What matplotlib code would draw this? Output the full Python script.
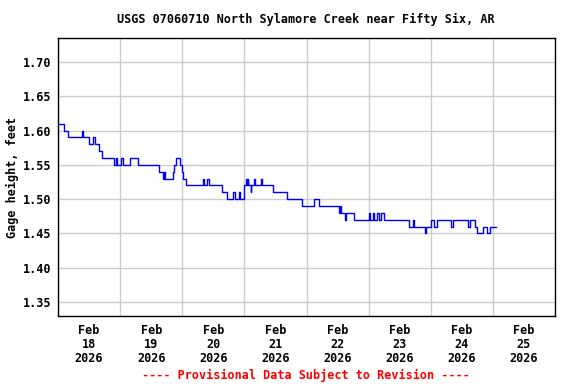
import pandas as pd
import matplotlib
matplotlib.use("Agg")
import matplotlib.pyplot as plt
import matplotlib.dates as mdates

# gage height change points: hours after 2026-02-18 00:00, value in feet
hours = [0, 2.5, 4.0, 9.25, 9.5, 12.0, 13.5, 14.25, 16.0, 17.0,
         21.5, 22.25, 22.75, 24.5, 25.0, 27.75, 30.75, 39.0, 40.5, 41.0,
         41.25, 44.5, 45.0, 45.5, 47.25, 47.75, 48.25, 49.5, 56.0, 56.5,
         57.75, 58.25, 63.25, 65.25, 67.75, 68.5, 69.75, 70.25, 71.75, 72.0,
         72.5, 73.0, 73.25, 73.5, 74.5, 74.75, 75.75, 76.0, 78.25, 78.75,
         83.0, 88.5, 94.25, 99.0, 100.75, 108.5, 108.75, 109.5, 110.75, 111.25,
         114.25, 120.0, 120.5, 121.75, 122.25, 123.25, 124.0, 124.75, 125.75, 135.75,
         137.0, 137.5, 141.75, 142.25, 144.0, 145.25, 146.25, 152.0, 152.5, 158.5,
         159.0, 161.0, 162.0, 164.25, 165.75, 166.75, 169.25]
gage_ft = [1.61, 1.60, 1.59, 1.60, 1.59, 1.58, 1.59, 1.58, 1.57, 1.56,
           1.55, 1.56, 1.55, 1.56, 1.55, 1.56, 1.55, 1.54, 1.53, 1.54,
           1.53, 1.54, 1.55, 1.56, 1.55, 1.54, 1.53, 1.52, 1.53, 1.52,
           1.53, 1.52, 1.51, 1.50, 1.51, 1.50, 1.51, 1.50, 1.51, 1.52,
           1.53, 1.52, 1.53, 1.52, 1.51, 1.52, 1.53, 1.52, 1.53, 1.52,
           1.51, 1.50, 1.49, 1.50, 1.49, 1.48, 1.49, 1.48, 1.47, 1.48,
           1.47, 1.48, 1.47, 1.48, 1.47, 1.48, 1.47, 1.48, 1.47, 1.46,
           1.47, 1.46, 1.45, 1.46, 1.47, 1.46, 1.47, 1.46, 1.47, 1.46,
           1.47, 1.46, 1.45, 1.46, 1.45, 1.46, 1.46]

y_ticks = [1.35, 1.40, 1.45, 1.50, 1.55, 1.60, 1.65, 1.70]

start = pd.Timestamp("2026-02-18")
times = start + pd.to_timedelta(hours, unit="h")

font = "DejaVu Sans Mono"
fs = 8.5

fig = plt.figure(figsize=(5.76, 3.84), dpi=100)
ax = fig.add_axes([58 / 576, 1 - 316 / 384, (555 - 58) / 576, (316 - 38) / 384])

ax.plot(times, gage_ft, color="#0000ff", lw=1.0, drawstyle="steps-post")

ax.set_xlim(start, start + pd.Timedelta(days=8))
ax.set_ylim(1.3295, 1.735)

# midnight gridlines, labels centred at noon
ax.xaxis.set_major_locator(mdates.DayLocator())
ax.xaxis.set_major_formatter(plt.NullFormatter())
ax.xaxis.set_minor_locator(mdates.HourLocator(byhour=[12]))
ax.xaxis.set_minor_formatter(mdates.DateFormatter("%b\n%d\n%Y"))
ax.tick_params(axis="x", which="both", length=0, pad=6)
ax.tick_params(axis="y", length=0, pad=5)

ax.set_yticks(y_ticks)
ax.set_yticklabels([f"{v:.2f}" for v in y_ticks])
for lab in ax.get_yticklabels() + ax.xaxis.get_minorticklabels():
    lab.set_fontfamily(font)
    lab.set_fontweight("bold")
    lab.set_fontsize(fs)
for lab in ax.xaxis.get_minorticklabels():
    lab.set_linespacing(1.1)

ax.grid(True, which="major", color="#cccccc", lw=1.0)
ax.set_axisbelow(True)
for s in ax.spines.values():
    s.set_linewidth(1.0)
    s.set_color("black")

fig.text(12 / 576, 1 - 177 / 384, "Gage height, feet", rotation=90,
         ha="center", va="center", fontfamily=font, fontweight="bold", fontsize=fs)
fig.text(306 / 576, 1 - 19 / 384, "USGS 07060710 North Sylamore Creek near Fifty Six, AR",
         ha="center", va="center", fontfamily=font, fontweight="bold", fontsize=fs)
fig.text(306 / 576, 1 - 375 / 384, "---- Provisional Data Subject to Revision ----",
         ha="center", va="center", fontfamily=font, fontweight="bold", fontsize=fs, color="red")

fig.savefig("out.png", dpi=100)
